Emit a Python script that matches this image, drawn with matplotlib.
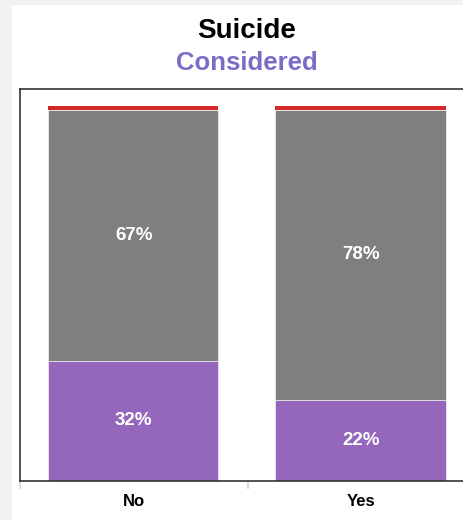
import matplotlib
matplotlib.use("Agg")
import matplotlib.pyplot as plt
from matplotlib.patches import Rectangle
import numpy as np

categories = ["No", "Yes"]
purple_vals = [32.0, 21.7]
gray_vals = [67.0, 77.3]
red_vals = [1.0, 1.0]
purple_labels = ["32%", "22%"]
gray_labels = ["67%", "78%"]

plt.rcParams['font.family'] = ['Liberation Sans', 'DejaVu Sans']

W, H = 464, 520
fig = plt.figure(figsize=(W / 100, H / 100), dpi=100, facecolor="#f2f2f2")
fig.patches.append(Rectangle((12 / W, 0), 1, 1 - 5 / H, transform=fig.transFigure,
                             facecolor="white", edgecolor="none", zorder=-10))

ax = fig.add_axes([20 / W, 1 - 481 / H, 455 / W, 392 / H])
ax.set_zorder(1)
ax.set_facecolor("white")
x = np.arange(len(categories))
bw = 0.75
p = ax.bar(x - 0.004, purple_vals, bw, color="#9467bd", edgecolor="white", linewidth=0.4)
g = ax.bar(x - 0.004, gray_vals, bw, bottom=purple_vals, color="#7f7f7f", edgecolor="white", linewidth=0.4)
bottom2 = np.array(purple_vals) + np.array(gray_vals)
r = ax.bar(x - 0.004, red_vals, bw, bottom=bottom2, color="#d62728", edgecolor="none")

for i in range(len(categories)):
    ax.text(x[i], purple_vals[i] / 2, purple_labels[i], ha="center", va="center",
            color="white", fontsize=13.5, fontweight="bold")
    ax.text(x[i], purple_vals[i] + gray_vals[i] / 2, gray_labels[i], ha="center", va="center",
            color="white", fontsize=13.5, fontweight="bold")

ax.set_xlim(-0.5, 1.5)
ax.set_ylim(0, 104.5)
ax.set_yticks([])
ax.set_xticks(x)
ax.set_xticklabels(categories, fontsize=12, fontweight="bold")
ax.tick_params(axis="x", which="major", length=0, pad=9)
ax.set_xticks([-0.5, 0.5, 1.5], minor=True)
ax.tick_params(axis="x", which="minor", length=6, width=1.2, color="#d8d8d8", direction="out", pad=2)
for s in ax.spines.values():
    s.set_color("#333333")
    s.set_linewidth(1.2)

fig.text(0.532, 1 - 31 / H, "Suicide", ha="center", va="center", fontsize=20,
         fontweight="bold", color="black")
fig.text(0.531, 1 - 63 / H, "Considered", ha="center", va="center", fontsize=18.5,
         fontweight="bold", color="#7b6cc6")

fig.savefig("out.png", dpi=100, facecolor=fig.get_facecolor())
